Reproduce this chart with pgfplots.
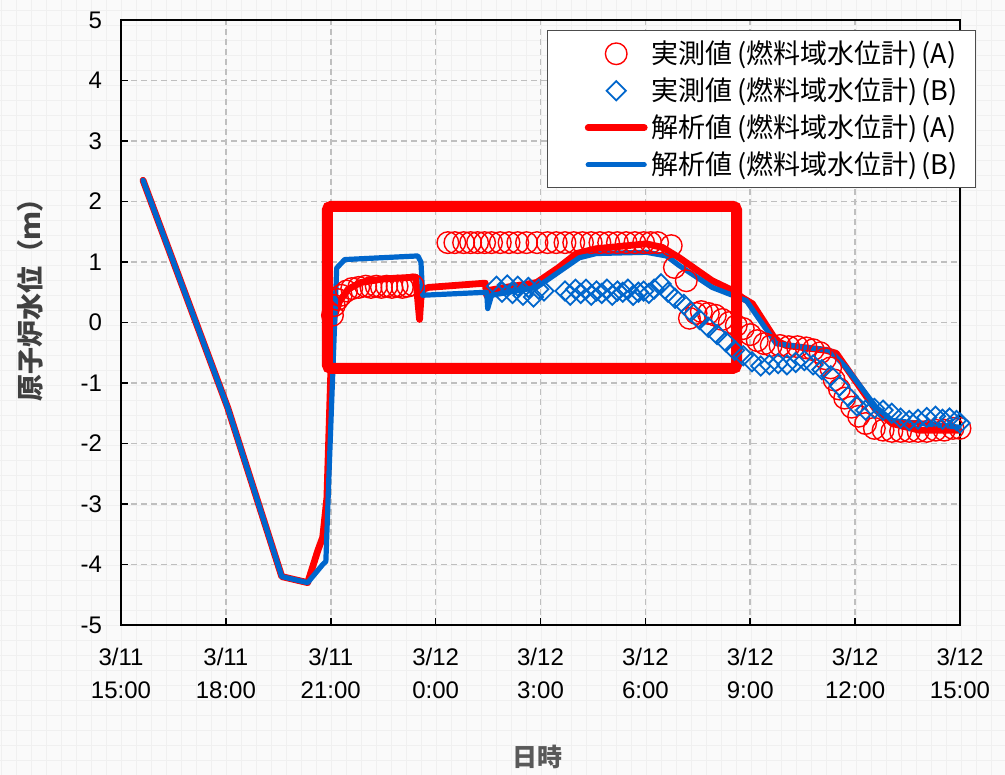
\documentclass[border=0pt]{standalone}
\usepackage{pgfplots}
\pgfplotsset{compat=1.18}
\usepackage{fontspec}
\setmainfont{Liberation Sans}
\newfontfamily\cjk{Noto Sans CJK JP}
\definecolor{lred}{HTML}{FF0000}
\definecolor{lblue}{HTML}{0066CC}
\definecolor{gridc}{HTML}{BFBFBF}
\pgfplotsset{
  markleg/.style={legend image code/.code={\path (-15.5pt,0pt) (28pt,0pt); \draw[##1] plot coordinates {(14pt,0pt)};}},
  lineleg/.style={legend image code/.code={\path (-15.5pt,0pt) (28pt,0pt); \draw[##1] (0pt,0pt) -- (28pt,0pt);}},
}
\begin{document}
\begin{tikzpicture}
\path[use as bounding box] (-60.5pt,-75pt) rectangle (442pt,312.5pt);
\fill[black!2] (-60.5pt,-75pt) rectangle (442pt,312.5pt);
\draw[black!6, line width=0.4pt, step=7.5pt] (-60.5pt,-75pt) grid (442pt,312.5pt);
\begin{axis}[
  width=419.5pt, height=302.5pt, scale only axis,
  xmin=0, xmax=24, ymin=-5, ymax=5,
  clip=false,
  axis line style={black, line width=0.9pt},
  xtick={0,3,...,24},
  xticklabels={{3/11\\15:00},{3/11\\18:00},{3/11\\21:00},{3/12\\0:00},{3/12\\3:00},{3/12\\6:00},{3/12\\9:00},{3/12\\12:00},{3/12\\15:00}},
  xticklabel style={align=center, font=\fontsize{12pt}{16.5pt}\selectfont, yshift=-8pt},
  ytick={-5,-4,...,5},
  yticklabels={-5,-4,-3,-2,-1,0,1,2,3,4,5},
  yticklabel style={font=\fontsize{12pt}{14pt}\selectfont, xshift=-6pt},
  tick pos=left,
  tick style={black, line width=0.8pt},
  major tick length=3.5pt,
  grid=major,
  major grid style={gridc, dash pattern=on 3pt off 2pt, line width=0.8pt},
  xlabel={\cjk\bfseries 日時},
  xlabel style={at={(axis description cs:0.496,-0.218)}, anchor=center, text=black!65, font=\fontsize{12.5pt}{14pt}\selectfont},
  ylabel={\cjk\bfseries 原子炉水位（ｍ）},
  ylabel style={at={(axis description cs:-0.108,0.548)}, anchor=center, text=black!75, font=\fontsize{13.5pt}{15pt}\selectfont},
  legend style={at={(rel axis cs:0.508,0.983)}, anchor=north west, draw=black!70, line width=0.6pt, fill=white,
    font=\fontsize{13.5pt}{15pt}\selectfont\cjk, row sep=1.6pt, inner xsep=3pt, inner ysep=3pt},
  legend cell align=left,
]
\addplot[only marks, mark=o, mark size=5.4pt, mark options={lred, line width=0.7pt}, lred, markleg]
 coordinates {
 (6.05,0.12)(6.1,0.28)(6.2,0.38)(6.3,0.45)(6.45,0.52)(6.6,0.56)(6.8,0.58)(7.0,0.6)(7.15,0.58)(7.3,0.6)(7.45,0.58)(7.6,0.6)(7.75,0.58)(7.9,0.6)(8.05,0.58)(8.2,0.6)(8.35,0.62)
 (9.35,1.32)(9.55,1.32)(9.8,1.32)(10.0,1.32)(10.2,1.32)(10.4,1.32)(10.6,1.32)(10.85,1.32)(11.1,1.32)(11.35,1.32)(11.6,1.32)(11.9,1.32)(12.2,1.32)(12.45,1.32)(12.7,1.32)(12.95,1.32)(13.2,1.32)(13.45,1.32)(13.7,1.32)(13.95,1.32)(14.2,1.32)(14.45,1.32)(14.7,1.32)(14.95,1.32)(15.15,1.32)(15.35,1.32)
 (15.74,1.27)(15.83,0.91)(16.17,0.69)
 (16.26,0.07)(16.45,0.15)(16.6,0.18)(16.8,0.15)(17.0,0.12)(17.2,0.05)(17.4,0.0)(17.6,-0.05)(17.8,-0.1)(18.0,-0.2)(18.2,-0.3)(18.4,-0.35)(18.6,-0.38)(18.85,-0.38)(19.1,-0.4)(19.35,-0.4)(19.6,-0.42)(19.8,-0.45)(20.0,-0.5)(20.15,-0.6)(20.3,-0.75)(20.4,-0.95)(20.55,-1.1)(20.7,-1.25)(20.9,-1.4)(21.1,-1.55)(21.3,-1.67)(21.55,-1.75)(21.8,-1.78)(22.05,-1.8)(22.3,-1.8)(22.55,-1.8)(22.8,-1.8)(23.05,-1.8)(23.3,-1.78)(23.55,-1.78)(23.8,-1.75)(24.0,-1.75)
 };
\addlegendentry{実測値\,(燃料域水位計)\,(A)\hspace*{4pt}}
\addplot[only marks, mark=square, mark size=3.4pt, mark options={lblue, rotate=45, line width=0.9pt}, lblue, markleg]
 coordinates {
 (10.74,0.6)(10.9,0.5)(11.05,0.62)(11.2,0.48)(11.35,0.6)(11.5,0.45)(11.65,0.58)(11.8,0.42)(11.95,0.55)(12.1,0.52)
 (12.7,0.52)(12.85,0.45)(13.0,0.55)(13.15,0.48)(13.3,0.55)(13.45,0.45)(13.6,0.52)(13.75,0.48)(13.9,0.55)(14.05,0.45)(14.2,0.52)(14.35,0.5)(14.5,0.55)(14.65,0.45)(14.8,0.5)(14.95,0.52)(15.1,0.48)(15.25,0.55)
 (15.45,0.64)(15.65,0.5)(15.85,0.4)(16.1,0.3)(16.3,0.18)(16.55,0.05)(16.8,-0.08)(17.05,-0.2)(17.3,-0.32)(17.55,-0.46)(17.8,-0.55)(18.05,-0.65)(18.3,-0.72)(18.55,-0.7)(18.8,-0.68)(19.05,-0.7)(19.3,-0.66)(19.55,-0.63)(19.8,-0.7)(20.05,-0.78)(20.3,-0.88)(20.55,-1.05)(20.8,-1.22)(21.05,-1.38)(21.3,-1.45)(21.55,-1.42)(21.8,-1.45)(22.05,-1.5)(22.3,-1.58)(22.55,-1.62)(22.8,-1.6)(23.05,-1.57)(23.3,-1.55)(23.5,-1.6)(23.7,-1.58)(23.9,-1.62)(24.0,-1.66)
 };
\addlegendentry{実測値\,(燃料域水位計)\,(B)\hspace*{4pt}}
\addplot[lred, line width=3.4pt, line join=round, line cap=round, lineleg]
 coordinates {
 (0.63,2.35)(3.06,-1.42)(4.6,-4.2)(5.34,-4.3)(5.63,-3.77)(5.77,-3.55)(5.89,-2.9)(6.03,-0.3)(6.1,0.1)(6.25,0.35)(6.5,0.55)(6.85,0.66)(7.5,0.72)(8.43,0.75)(8.5,0.3)(8.54,0.05)(8.58,0.4)(8.65,0.55)(8.8,0.58)(10.42,0.65)(10.46,0.45)(10.52,0.53)(11.0,0.58)(11.89,0.66)(12.5,0.9)(13.03,1.14)(13.6,1.22)(15.03,1.3)(15.49,1.24)(15.97,1.07)(16.91,0.69)(17.49,0.53)(17.77,0.41)(18.06,0.31)(18.74,-0.3)(19.03,-0.38)(20.17,-0.46)(20.46,-0.51)(21.6,-1.45)(22.06,-1.67)(22.83,-1.78)(23.97,-1.78)
 };
\addlegendentry{解析値\,(燃料域水位計)\,(A)\hspace*{4pt}}
\addplot[lblue, line width=2.6pt, line join=round, line cap=round, lineleg]
 coordinates {
 (0.63,2.35)(3.06,-1.42)(4.6,-4.2)(5.34,-4.3)(5.77,-4.0)(5.86,-3.95)(5.95,-2.5)(6.17,0.9)(6.4,1.04)(8.49,1.1)(8.58,1.0)(8.63,0.45)(10.46,0.5)(10.49,0.23)(10.6,0.45)(11.89,0.58)(13.11,1.07)(13.6,1.14)(15.03,1.16)(15.6,1.1)(15.97,0.94)(16.91,0.58)(17.49,0.45)(17.89,0.36)(18.74,-0.35)(20.26,-0.46)(20.74,-0.74)(21.6,-1.4)(22.06,-1.62)(23.97,-1.73)
 };
\addlegendentry{解析値\,(燃料域水位計)\,(B)\hspace*{4pt}}
\draw[lred, line width=5.5pt, rounded corners=2pt] (axis cs:5.9,-0.76) rectangle (axis cs:17.61,1.92);
\end{axis}
\end{tikzpicture}
\end{document}
